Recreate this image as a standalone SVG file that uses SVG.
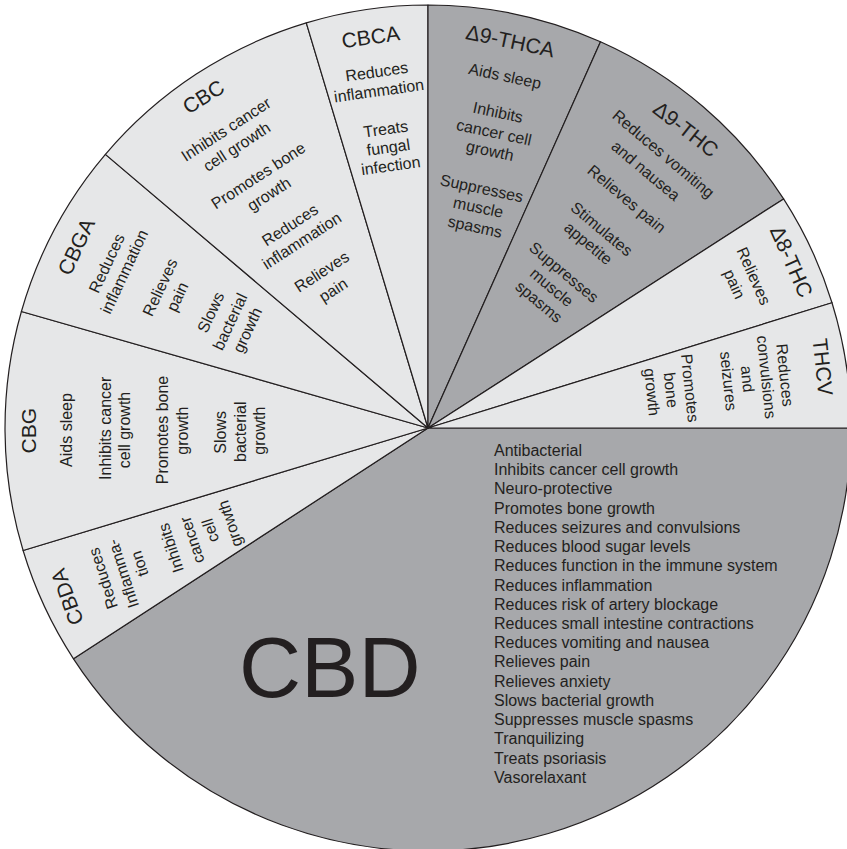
<svg xmlns="http://www.w3.org/2000/svg" width="847" height="849" viewBox="0 0 847 849">
<style>
.bg{fill:#ffffff}
.lt{fill:#e6e7e8;stroke:#231f20;stroke-width:1.2;stroke-linejoin:round}
.dk{fill:#a7a8ab;stroke:#231f20;stroke-width:1.2;stroke-linejoin:round}
.t{font-family:"Liberation Sans",Arial,Helvetica,sans-serif;font-size:16px;fill:#231f20;text-anchor:middle;dominant-baseline:central}
.h{font-size:21px}
.l{font-family:"Liberation Sans",Arial,Helvetica,sans-serif;font-size:16px;fill:#231f20}
.big{font-family:"Liberation Sans",Arial,Helvetica,sans-serif;font-size:86px;fill:#231f20}
</style>
<rect class="bg" x="0" y="0" width="847" height="849"/>
<g id="wedges">
<g id="CBD">
<path class="dk" d="M428 428 L851 428 A423 423 0 0 1 73.5 658.8 Z"/>
<text class="big" x="239" y="697">CBD</text>
<text class="l" x="494" y="456">Antibacterial</text>
<text class="l" x="494" y="475.2">Inhibits cancer cell growth</text>
<text class="l" x="494" y="494.4">Neuro-protective</text>
<text class="l" x="494" y="513.7">Promotes bone growth</text>
<text class="l" x="494" y="532.9">Reduces seizures and convulsions</text>
<text class="l" x="494" y="552.1">Reduces blood sugar levels</text>
<text class="l" x="494" y="571.3">Reduces function in the immune system</text>
<text class="l" x="494" y="590.5">Reduces inflammation</text>
<text class="l" x="494" y="609.8">Reduces risk of artery blockage</text>
<text class="l" x="494" y="629">Reduces small intestine contractions</text>
<text class="l" x="494" y="648.2">Reduces vomiting and nausea</text>
<text class="l" x="494" y="667.4">Relieves pain</text>
<text class="l" x="494" y="686.6">Relieves anxiety</text>
<text class="l" x="494" y="705.9">Slows bacterial growth</text>
<text class="l" x="494" y="725.1">Suppresses muscle spasms</text>
<text class="l" x="494" y="744.3">Tranquilizing</text>
<text class="l" x="494" y="763.5">Treats psoriasis</text>
<text class="l" x="494" y="782.7">Vasorelaxant</text>
</g>
<g id="CBDA">
<path class="lt" d="M428 428 L73.5 658.8 A423 423 0 0 1 23.1 550.5 Z"/>
<text class="t h" transform="translate(67 597) rotate(-110)">CBDA</text>
<text class="t" transform="translate(103 578.3) rotate(-108)">Reduces</text>
<text class="t" transform="translate(123 573.7) rotate(-108)">Inflamma-</text>
<text class="t" transform="translate(139.5 563.7) rotate(-108)">tion</text>
<text class="t" transform="translate(171 548) rotate(-108)">Inhibits</text>
<text class="t" transform="translate(192 540) rotate(-108)">cancer</text>
<text class="t" transform="translate(210.3 530.5) rotate(-108)">cell</text>
<text class="t" transform="translate(230 523.7) rotate(-108)">growth</text>
</g>
<g id="CBG">
<path class="lt" d="M428 428 L23.1 550.5 A423 423 0 0 1 21.4 311.5 Z"/>
<text class="t h" transform="translate(28.3 430.7) rotate(-90)">CBG</text>
<text class="t" transform="translate(66.5 430) rotate(-90)">Aids sleep</text>
<text class="t" transform="translate(105 428.3) rotate(-90)">Inhibits cancer</text>
<text class="t" transform="translate(124.5 430) rotate(-90)">cell growth</text>
<text class="t" transform="translate(162.5 430) rotate(-90)">Promotes bone</text>
<text class="t" transform="translate(182 430.7) rotate(-90)">growth</text>
<text class="t" transform="translate(220.7 432.3) rotate(-90)">Slows</text>
<text class="t" transform="translate(240.7 431.7) rotate(-90)">bacterial</text>
<text class="t" transform="translate(259 430.7) rotate(-90)">growth</text>
</g>
<g id="CBGA">
<path class="lt" d="M428 428 L21.4 311.5 A423 423 0 0 1 105.4 154.4 Z"/>
<text class="t h" transform="translate(76 246.7) rotate(-65)">CBGA</text>
<text class="t" transform="translate(106.7 263.3) rotate(-65)">Reduces</text>
<text class="t" transform="translate(124.3 271.7) rotate(-65)">inflammation</text>
<text class="t" transform="translate(160 287.3) rotate(-65)">Relieves</text>
<text class="t" transform="translate(177.3 296.7) rotate(-65)">pain</text>
<text class="t" transform="translate(210.7 312.3) rotate(-65)">Slows</text>
<text class="t" transform="translate(230 321.7) rotate(-65)">bacterial</text>
<text class="t" transform="translate(247.3 330) rotate(-65)">growth</text>
</g>
<g id="CBC">
<path class="lt" d="M428 428 L105.4 154.4 A423 423 0 0 1 306.3 22.9 Z"/>
<text class="t h" transform="translate(203.3 96.7) rotate(-32)">CBC</text>
<text class="t" transform="translate(226 129.3) rotate(-33)">Inhibits cancer</text>
<text class="t" transform="translate(236.7 146.7) rotate(-33)">cell growth</text>
<text class="t" transform="translate(258.3 175.7) rotate(-33)">Promotes bone</text>
<text class="t" transform="translate(269 194) rotate(-33)">growth</text>
<text class="t" transform="translate(290 225) rotate(-33)">Reduces</text>
<text class="t" transform="translate(301.7 240.7) rotate(-33)">inflammation</text>
<text class="t" transform="translate(321.7 271.7) rotate(-33)">Relieves</text>
<text class="t" transform="translate(333.3 290) rotate(-33)">pain</text>
</g>
<g id="CBCA">
<path class="lt" d="M428 428 L306.3 22.9 A423 423 0 0 1 428 5 Z"/>
<text class="t h" transform="translate(370.7 36.7) rotate(-8)">CBCA</text>
<text class="t" transform="translate(376.7 71.7) rotate(-8)">Reduces</text>
<text class="t" transform="translate(379 90.7) rotate(-8)">inflammation</text>
<text class="t" transform="translate(385.7 129) rotate(-8)">Treats</text>
<text class="t" transform="translate(388.3 147.3) rotate(-8)">fungal</text>
<text class="t" transform="translate(390.7 165.7) rotate(-8)">infection</text>
</g>
<g id="D9-THCA">
<path class="dk" d="M428 428 L428 5 A423 423 0 0 1 600.5 41.8 Z"/>
<text class="t h" transform="translate(510.3 40.7) rotate(12)">Δ9-THCA</text>
<text class="t" transform="translate(505 76) rotate(12)">Aids sleep</text>
<text class="t" transform="translate(498 112.3) rotate(12)">Inhibits</text>
<text class="t" transform="translate(494 132.3) rotate(12)">cancer cell</text>
<text class="t" transform="translate(490 150.7) rotate(12)">growth</text>
<text class="t" transform="translate(481.7 188.3) rotate(12)">Suppresses</text>
<text class="t" transform="translate(478.3 207.3) rotate(12)">muscle</text>
<text class="t" transform="translate(475 226.7) rotate(12)">spasms</text>
</g>
<g id="D9-THC">
<path class="dk" d="M428 428 L600.5 41.8 A423 423 0 0 1 783.6 198.9 Z"/>
<text class="t h" transform="translate(686 129) rotate(38)">Δ9-THC</text>
<text class="t" transform="translate(663.5 154) rotate(40)">Reduces vomiting</text>
<text class="t" transform="translate(645.7 170.7) rotate(40)">and nausea</text>
<text class="t" transform="translate(626.7 199) rotate(40)">Relieves pain</text>
<text class="t" transform="translate(601.7 229) rotate(40)">Stimulates</text>
<text class="t" transform="translate(588.3 243.3) rotate(40)">appetite</text>
<text class="t" transform="translate(564 272.3) rotate(40)">Suppresses</text>
<text class="t" transform="translate(551.7 287.3) rotate(40)">muscle</text>
<text class="t" transform="translate(539 301.7) rotate(40)">spasms</text>
</g>
<g id="D8-THC">
<path class="lt" d="M428 428 L783.6 198.9 A423 423 0 0 1 832 302.7 Z"/>
<text class="t h" transform="translate(791.7 261.5) rotate(66)">Δ8-THC</text>
<text class="t" transform="translate(753.7 276) rotate(66)">Relieves</text>
<text class="t" transform="translate(734.5 284) rotate(66)">pain</text>
</g>
<g id="THCV">
<path class="lt" d="M428 428 L832 302.7 A423 423 0 0 1 851 428 Z"/>
<text class="t h" transform="translate(823 367) rotate(84)">THCV</text>
<text class="t" transform="translate(785 375) rotate(84)">Reduces</text>
<text class="t" transform="translate(766.5 377) rotate(84)">convulsions</text>
<text class="t" transform="translate(747.5 379) rotate(84)">and</text>
<text class="t" transform="translate(728.5 381) rotate(84)">seizures</text>
<text class="t" transform="translate(690 388) rotate(84)">Promotes</text>
<text class="t" transform="translate(671 390) rotate(84)">bone</text>
<text class="t" transform="translate(652 392) rotate(84)">growth</text>
</g>
</g>
<g id="connectors"/>
</svg>
